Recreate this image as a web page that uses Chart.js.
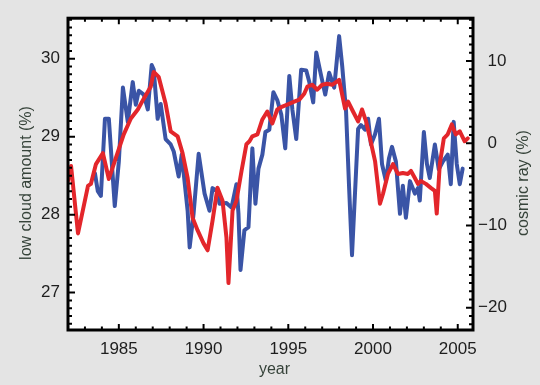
<!DOCTYPE html>
<html>
<head>
<meta charset="utf-8">
<script src="https://cdn.jsdelivr.net/npm/chart.js@4.4.1/dist/chart.umd.min.js"></script>
<style>
	html, body {margin: 0; padding: 0; background: #e4e4e4;}
	#chart {display: block; background: #e4e4e4;}
</style>
</head>
<body>
<canvas id="chart" width="540" height="385"></canvas>
<script>
// low cloud amount (%), left axis
var cloudYears  = [1983.59, 1983.76, 1983.94, 1984.18, 1984.41, 1984.76, 1985.00, 1985.24, 1985.53, 1985.82,
                   1986.00, 1986.18, 1986.47, 1986.71, 1986.94, 1987.06, 1987.29, 1987.47, 1987.76, 1988.06,
                   1988.24, 1988.53, 1988.71, 1989.06, 1989.18, 1989.41, 1989.71, 1990.06, 1990.35, 1990.53,
                   1990.82, 1990.94, 1991.35, 1991.65, 1991.94, 1992.06, 1992.18, 1992.41, 1992.65, 1992.88,
                   1993.06, 1993.24, 1993.47, 1993.65, 1993.88, 1994.12, 1994.35, 1994.59, 1994.82, 1995.06,
                   1995.24, 1995.47, 1995.76, 1996.06, 1996.24, 1996.47, 1996.65, 1996.94, 1997.18, 1997.41,
                   1997.71, 1998.00, 1998.18, 1998.41, 1998.59, 1998.76, 1999.00, 1999.12, 1999.29, 1999.53,
                   1999.71, 1999.88, 2000.12, 2000.35, 2000.53, 2000.76, 2000.94, 2001.12, 2001.35, 2001.59,
                   2001.76, 2001.94, 2002.18, 2002.47, 2002.65, 2002.76, 2003.00, 2003.18, 2003.35, 2003.65,
                   2003.88, 2004.12, 2004.41, 2004.59, 2004.76, 2004.94, 2005.12, 2005.29];
var cloudValues = [28.53, 28.30, 28.24, 29.23, 29.23, 28.11, 28.68, 29.63, 29.19, 29.70,
                   29.41, 29.59, 29.54, 29.35, 29.92, 29.86, 29.23, 29.42, 28.97, 28.90,
                   28.81, 28.49, 28.77, 28.05, 27.58, 28.01, 28.78, 28.27, 28.05, 28.34,
                   28.30, 28.14, 28.15, 28.09, 28.39, 28.01, 27.29, 27.80, 27.84, 28.85,
                   28.14, 28.59, 28.77, 29.06, 29.09, 29.57, 29.47, 29.28, 28.85, 29.78,
                   29.35, 28.97, 29.86, 29.85, 29.70, 29.44, 30.08, 29.78, 29.54, 29.82,
                   29.63, 30.29, 29.91, 29.32, 28.34, 27.48, 28.56, 29.10, 29.15, 29.09,
                   29.23, 28.90, 29.03, 29.23, 28.65, 28.43, 28.72, 28.87, 28.68, 28.01,
                   28.37, 27.96, 28.43, 28.27, 28.34, 28.18, 29.06, 28.65, 28.47, 28.90,
                   28.58, 28.68, 28.77, 28.39, 29.19, 28.65, 28.39, 28.59];

// cosmic ray (%), right axis
var cosmicYears  = [1982.00, 1982.18, 1982.59, 1983.18, 1983.35, 1983.65, 1984.06, 1984.41, 1984.82, 1985.29,
                    1985.71, 1986.12, 1986.47, 1986.88, 1987.06, 1987.35, 1987.76, 1988.06, 1988.47, 1988.76,
                    1989.06, 1989.35, 1989.65, 1990.00, 1990.24, 1990.53, 1990.82, 1991.12, 1991.35, 1991.47,
                    1991.71, 1991.94, 1992.24, 1992.53, 1992.71, 1992.88, 1993.18, 1993.47, 1993.76, 1994.06,
                    1994.35, 1994.65, 1994.94, 1995.35, 1995.65, 1995.94, 1996.12, 1996.41, 1996.71, 1997.00,
                    1997.29, 1997.59, 1998.00, 1998.06, 1998.35, 1998.53, 1998.82, 1999.12, 1999.35, 1999.59,
                    1999.82, 2000.12, 2000.41, 2000.59, 2000.88, 2001.18, 2001.47, 2001.76, 2002.06, 2002.24,
                    2002.47, 2002.65, 2002.82, 2003.12, 2003.41, 2003.65, 2003.76, 2003.94, 2004.18, 2004.41,
                    2004.65, 2004.88, 2005.12, 2005.41, 2005.59];
var cosmicValues = [-4.58, -2.77, -10.96, -5.18, -4.94, -2.53, -1.20, -4.34, -1.81, 1.08,
                    3.01, 4.10, 5.42, 6.87, 8.67, 8.07, 4.82, 1.45, 0.84, -1.20,
                    -4.22, -9.04, -10.60, -12.17, -13.01, -9.40, -5.42, -6.99, -11.45, -16.99,
                    -8.19, -6.99, -3.37, -0.12, 0.24, 0.84, 1.08, 2.89, 3.86, 2.41,
                    4.10, 4.46, 4.70, 5.06, 5.30, 6.02, 6.87, 7.11, 6.51, 7.11,
                    7.23, 7.11, 7.71, 7.11, 4.22, 5.06, 3.86, 2.65, 4.10, 2.65,
                    0.60, -2.17, -7.35, -6.14, -3.73, -2.53, -3.73, -3.61, -3.73, -3.37,
                    -4.22, -4.94, -4.58, -4.94, -5.42, -5.78, -8.55, -2.53, 0.60, 1.08,
                    2.29, 1.08, 1.45, 0.24, 0.60];

var yearTicks   = [1985, 1990, 1995, 2000, 2005];
var cloudTicks  = [27, 28, 29, 30];
var cosmicTicks = [-20, -10, 0, 10];

var FONT  = "'Liberation Sans', Arial, sans-serif";
var INK   = '#1e1e1e';
var TITLE = '#36433a';

function toPoints(xs, ys) {
	var pts = [];
	for (var i = 0; i < xs.length; i++) {pts.push({x: xs[i], y: ys[i]});}
	return pts;
}

function fixedTicks(list) {
	return function(scale) {scale.ticks = list.map(function(v) {return {value: v};});};
}

// white plot box, black frame with inward ticks, axis titles
var framePlugin = {
	id: 'frame',
	beforeDraw: function(chart) {
		var a = chart.chartArea, ctx = chart.ctx;
		ctx.save();
		ctx.fillStyle = '#ffffff';
		ctx.fillRect(a.left, a.top, a.right - a.left, a.bottom - a.top);
		ctx.restore();
	},
	afterDraw: function(chart) {
		var a = chart.chartArea, ctx = chart.ctx, s = chart.scales;
		ctx.save();
		ctx.strokeStyle = '#000';
		ctx.lineWidth = 2;
		ctx.beginPath();
		for (var yr = 1983; yr <= 2005; yr++) {
			var px = s.x.getPixelForValue(yr), len = yr % 5 === 0 ? 6 : 3.5;
			ctx.moveTo(px, a.bottom); ctx.lineTo(px, a.bottom - len);
			ctx.moveTo(px, a.top);    ctx.lineTo(px, a.top + len);
		}
		for (var k = 266; k <= 305; k++) {
			var py = s.y.getPixelForValue(k / 10), l2 = k % 10 === 0 ? 7 : 4;
			ctx.moveTo(a.left, py); ctx.lineTo(a.left + l2, py);
		}
		for (var v = -22; v <= 15; v++) {
			var py2 = s.y1.getPixelForValue(v), l3 = v % 10 === 0 ? 7 : 4;
			ctx.moveTo(a.right, py2); ctx.lineTo(a.right - l3, py2);
		}
		ctx.stroke();
		ctx.lineWidth = 3;
		ctx.strokeRect(a.left, a.top, a.right - a.left, a.bottom - a.top);

		ctx.fillStyle = TITLE;
		ctx.font = '16px ' + FONT;
		ctx.textAlign = 'center';
		ctx.textBaseline = 'middle';
		ctx.fillText('year', (a.left + a.right) / 2 + 4, 370);
		var midY = 183;
		ctx.translate(27, midY);
		ctx.rotate(-Math.PI / 2);
		ctx.fillText('low cloud amount (%)', 0, 0);
		ctx.rotate(Math.PI / 2);
		ctx.translate(-27, -midY);
		ctx.translate(524, midY);
		ctx.rotate(-Math.PI / 2);
		ctx.fillText('cosmic ray (%)', 0, 0);
		ctx.restore();
	}
};

var chart = new Chart(document.getElementById('chart').getContext('2d'), {
	type: 'line',
	data: {
		datasets: [
			{label: 'low cloud amount', data: toPoints(cloudYears, cloudValues), yAxisID: 'y',
			 borderColor: '#3a54a6', borderWidth: 4, order: 2},
			{label: 'cosmic ray', data: toPoints(cosmicYears, cosmicValues), yAxisID: 'y1',
			 borderColor: '#e3262b', borderWidth: 4, order: 1}
		]
	},
	options: {
		responsive: false,
		animation: false,
		devicePixelRatio: 1,
		layout: {padding: {top: 15}},
		elements: {
			point: {radius: 0},
			line:  {tension: 0, borderJoinStyle: 'round', borderCapStyle: 'round', fill: false}
		},
		plugins: {legend: {display: false}, tooltip: {enabled: false}},
		scales: {
			x: {
				type: 'linear', min: 1982, max: 2005.9,
				afterBuildTicks: fixedTicks(yearTicks),
				afterFit: function(s) {s.height = 55;},
				grid: {display: false, drawTicks: false}, border: {display: false},
				ticks: {padding: 9, color: INK, font: {family: FONT, size: 17}, maxRotation: 0,
				        callback: function(v) {return String(v);}}
			},
			y: {
				position: 'left', min: 26.52, max: 30.52,
				afterBuildTicks: fixedTicks(cloudTicks),
				afterFit: function(s) {s.width = 68;},
				grid: {display: false, drawTicks: false}, border: {display: false},
				ticks: {padding: 8, color: INK, font: {family: FONT, size: 17}}
			},
			y1: {
				position: 'right', min: -22.7, max: 15.2,
				afterBuildTicks: fixedTicks(cosmicTicks),
				afterFit: function(s) {s.width = 67;},
				grid: {display: false, drawTicks: false}, border: {display: false},
				ticks: {padding: 5, color: INK, font: {family: FONT, size: 17},
				        callback: function(v) {return v < 0 ? '\u2212' + Math.abs(v) : '\u2007' + v;}}
			}
		}
	},
	plugins: [framePlugin]
});
</script>
</body>
</html>
